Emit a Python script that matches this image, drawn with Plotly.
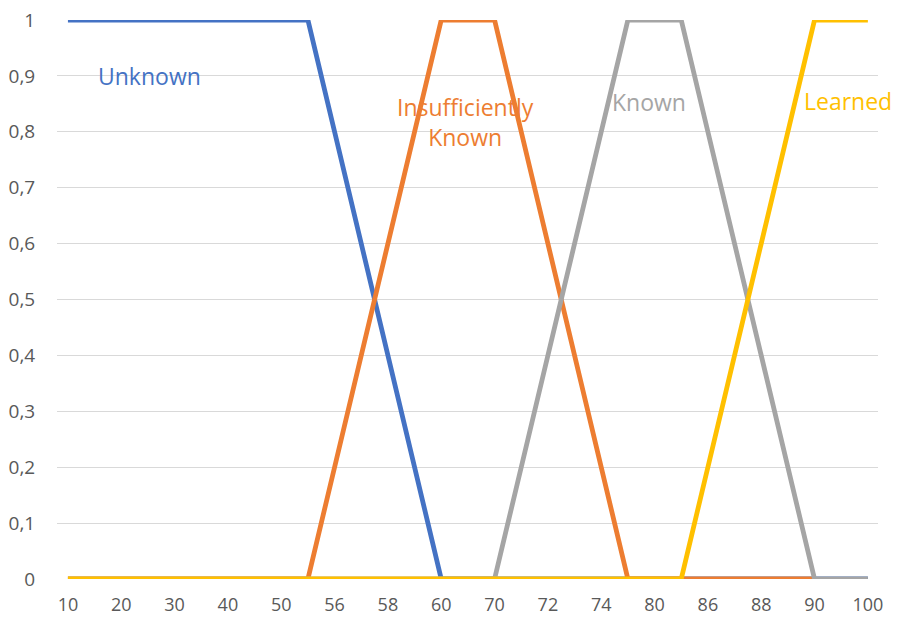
import plotly.graph_objects as go

# Score categories (unlabelled ones sit between the shown ticks)
categories = [10, 15, 20, 25, 30, 35, 40, 45, 50, 55, 56, 57, 58, 59, 60, 65,
              70, 71, 72, 73, 74, 75, 80, 85, 86, 87, 88, 89, 90, 95, 100]
tick_labels = [10, 20, 30, 40, 50, 56, 58, 60, 70, 72, 74, 80, 86, 88, 90, 100]

# Membership degree of each fuzzy set per category
unknown = [1, 1, 1, 1, 1, 1, 1, 1, 1, 1, 0.8, 0.6, 0.4, 0.2, 0, 0,
           0, 0, 0, 0, 0, 0, 0, 0, 0, 0, 0, 0, 0, 0, 0]
insufficiently_known = [0, 0, 0, 0, 0, 0, 0, 0, 0, 0, 0.2, 0.4, 0.6, 0.8, 1, 1,
                        1, 0.8, 0.6, 0.4, 0.2, 0, 0, 0, 0, 0, 0, 0, 0, None, None]
known = [0, 0, 0, 0, 0, 0, 0, 0, 0, 0, 0, 0, 0, 0, 0, 0,
         0, 0.2, 0.4, 0.6, 0.8, 1, 1, 1, 0.8, 0.6, 0.4, 0.2, 0, 0, 0]
learned = [0, 0, 0, 0, 0, 0, 0, 0, 0, 0, 0, 0, 0, 0, 0, 0,
           0, 0, 0, 0, 0, 0, 0, 0, 0.2, 0.4, 0.6, 0.8, 1, 1, 1]

series = [
    ("Unknown", unknown, "#4472C4"),
    ("Insufficiently Known", insufficiently_known, "#ED7D31"),
    ("Known", known, "#A5A5A5"),
    ("Learned", learned, "#FFC000"),
]

# Label text and placement (category index, membership)
labels = [
    ("Unknown", 3.05, 0.90, "#4472C4"),
    ("Insufficiently<br>Known", 14.9, 0.817, "#ED7D31"),
    ("Known", 21.8, 0.853, "#A5A5A5"),
    ("Learned", 29.25, 0.856, "#FFC000"),
]

x_str = [str(c) for c in categories]

fig = go.Figure()
for name, vals, color in series:
    fig.add_trace(go.Scatter(
        x=x_str, y=vals, mode="lines", name=name,
        line=dict(color=color, width=4.8),
        cliponaxis=False, connectgaps=False,
    ))

for text, xi, yi, color in labels:
    fig.add_annotation(
        x=xi, y=yi, xref="x", yref="y", text=text, showarrow=False,
        font=dict(family="Open Sans", size=23, color=color),
        xanchor="center", yanchor="middle", align="center",
    )

fig.update_layout(
    width=899, height=619,
    margin=dict(l=57, r=21, t=20, b=40),
    paper_bgcolor="white", plot_bgcolor="white",
    showlegend=False,
    separators=", ",
    font=dict(family="Open Sans", size=19, color="#595959"),
)
fig.update_xaxes(
    type="category",
    categoryorder="array", categoryarray=x_str,
    range=[-0.41, 30.38],
    tickmode="array", tickvals=[str(t) for t in tick_labels],
    ticktext=[str(t) for t in tick_labels],
    showgrid=False, showline=False, zeroline=False,
    ticks="outside", ticklen=9, tickcolor="rgba(0,0,0,0)",
    tickfont=dict(size=18, color="#595959"),
    automargin=False,
)
fig.update_yaxes(
    range=[0, 1], dtick=0.1, tick0=0,
    showgrid=True, gridcolor="#D9D9D9", gridwidth=1,
    zeroline=False, showline=False,
    ticks="outside", ticklen=17, tickcolor="rgba(0,0,0,0)",
    tickfont=dict(size=19, color="#595959"),
    automargin=False,
)

fig.write_html("out.html")
